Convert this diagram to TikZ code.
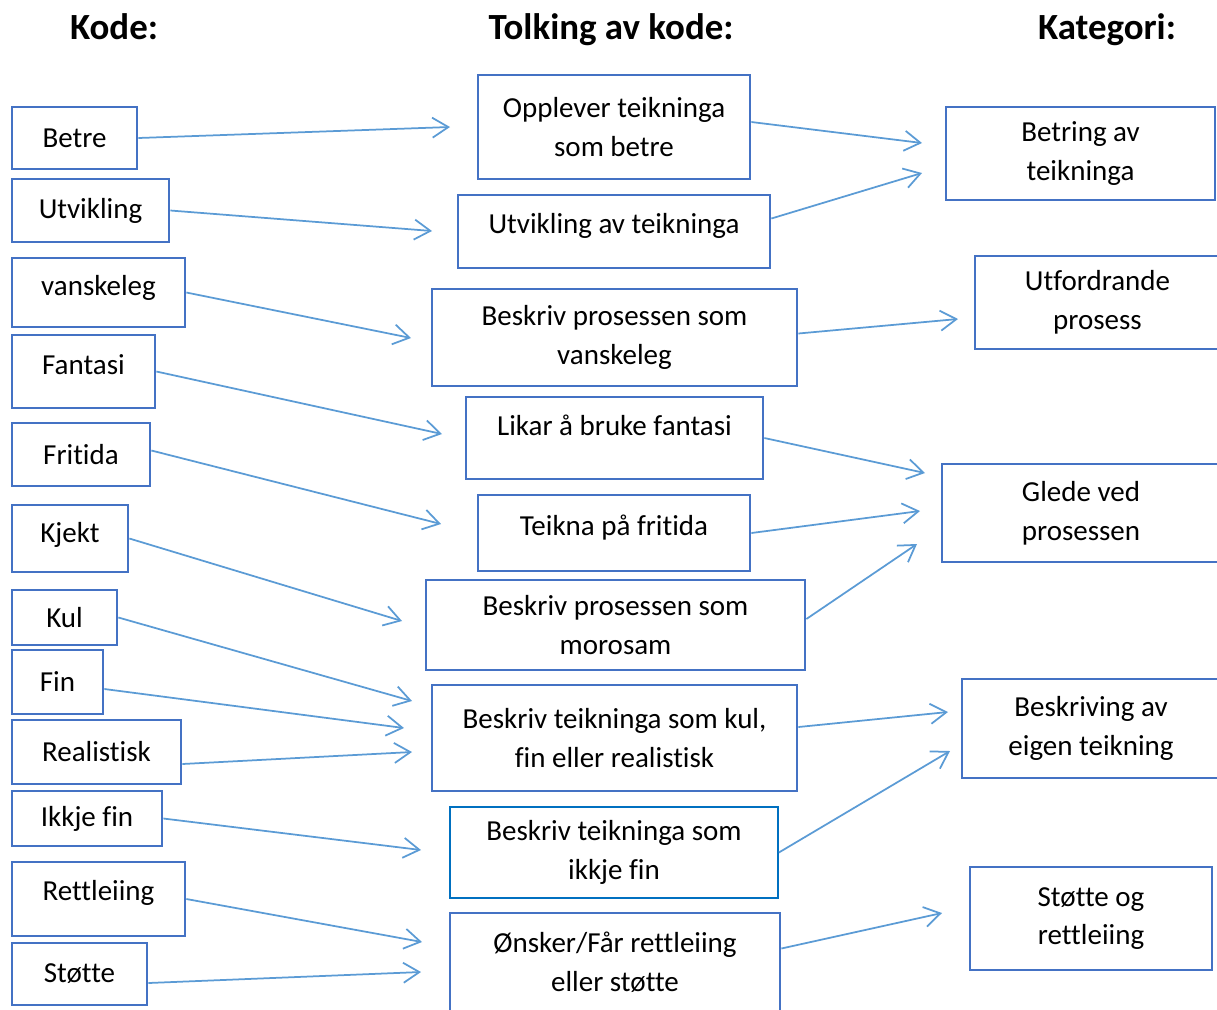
\documentclass[tikz,border=0pt]{standalone}
\usepackage{fontspec}
\setmainfont{Carlito}[Ligatures=NoCommon]
\usetikzlibrary{arrows.meta,calc}
\definecolor{boxblue}{HTML}{4472C4}
\definecolor{pilblue}{HTML}{5B9BD5}
\definecolor{lysblue}{HTML}{0070C0}
\tikzset{>={Straight Barb[length=0.32cm,width=0.4cm]}}
\tikzstyle{boks} = [draw=boxblue, line width=0.055cm, rectangle, inner sep=0pt, align=center, font=\fontsize{16.5}{22}\selectfont]
\tikzstyle{sz} = [minimum width=#1*0.02cm]
\tikzstyle{hy} = [minimum height=#1*0.02cm]
\tikzstyle{opp} = [text depth=#1]
\tikzstyle{pil} = [->, draw=pilblue, line width=0.035cm]
\tikzstyle{overskrift} = [font=\fontsize{21}{25}\selectfont\bfseries, inner sep=0pt, anchor=base]

\begin{document}
\begin{tikzpicture}[x=0.02cm,y=-0.02cm]
\useasboundingbox (0,0) rectangle (1217,1009);

% Headers
\node[overskrift](hkode) at (114,39){Kode:};
\node[overskrift](htolking) at (611,39){Tolking av kode:};
\node[overskrift](hkategori) at (1107,39){Kategori:};

% Kode column
\node[boks,sz=125,hy=62](betre) at (74.5,138){Betre};
\node[boks,sz=157,hy=63](utvikling) at (90.5,210.5){Utvikling};
\node[boks,sz=173,hy=69,opp=8pt](vanskeleg) at (98.5,292.5){vanskeleg};
\node[boks,sz=143,hy=73,opp=8pt](fantasi) at (83.5,371.5){Fantasi};
\node[boks,sz=138,hy=63](fritida) at (81,454.5){Fritida};
\node[boks,sz=116,hy=67,opp=7pt](kjekt) at (70,538.5){Kjekt};
\node[boks,sz=105,hy=55](kul) at (64.5,617.5){Kul};
\node[boks,sz=91,hy=64](fin) at (57.5,682){Fin};
\node[boks,sz=169,hy=64](realistisk) at (96.5,752){Realistisk};
\node[boks,sz=150,hy=55](ikkjefin) at (87,818.5){Ikkje fin};
\node[boks,sz=173,hy=74,opp=10pt](rettleiing) at (98.5,899){Rettleiing};
\node[boks,sz=135,hy=62](stotte) at (79.5,974){Støtte};

% Tolking column
\node[boks,sz=272,hy=104](opplever) at (614,127){Opplever teikninga\\som betre};
\node[boks,sz=312,hy=73,opp=9pt](utvav) at (614,231.5){Utvikling av teikninga};
\node[boks,sz=365,hy=97](vansk) at (614.5,337.5){Beskriv prosessen som\\vanskeleg};
\node[boks,sz=297,hy=82,opp=14pt](likar) at (614.5,438){Likar å bruke fantasi};
\node[boks,sz=272,hy=76,opp=9pt](teikna) at (614,533){Teikna på fritida};
\node[boks,sz=379,hy=90](morosam) at (615.5,625){Beskriv prosessen som\\morosam};
\node[boks,sz=365,hy=106](kulfin) at (614.5,738){Beskriv teikninga som kul,\\fin eller realistisk};
\node[boks,sz=328,hy=91,draw=lysblue,line width=0.035cm](ikkjefinm) at (614,852.5){Beskriv teikninga som\\ikkje fin};
\node[boks,sz=330,hy=99](onsker) at (615,962.5){Ønsker/Får rettleiing\\eller støtte};

% Kategori column
\node[boks,sz=269,hy=93](betring) at (1080.5,153.5){Betring av\\teikninga};
\node[boks,sz=245,hy=93](utford) at (1097.5,302.5){Utfordrande\\prosess};
\node[boks,sz=278,hy=98](glede) at (1081,513){Glede ved\\prosessen};
\node[boks,sz=258,hy=99](beskriving) at (1091,728.5){Beskriving av\\eigen teikning};
\node[boks,sz=242,hy=103](stotteog) at (1091,918.5){Støtte og\\rettleiing};

% Free arrow ends
\coordinate (t-betre) at (450,127);
\coordinate (t-utvikling) at (432,231);
\coordinate (t-vanskeleg) at (411,338);
\coordinate (t-fantasi) at (442,434);
\coordinate (t-fritida) at (441,524);
\coordinate (t-kjekt) at (402,621);
\coordinate (t-kul) at (412,701);
\coordinate (t-fin) at (404,728);
\coordinate (t-realistisk) at (412,752);
\coordinate (t-ikkjefin) at (421,850);
\coordinate (t-rettleiing) at (422,942);
\coordinate (t-stotte) at (421,972);
\coordinate (t-opplever) at (922,143);
\coordinate (t-utvav) at (922,173);
\coordinate (t-vansk) at (958,319);
\coordinate (t-likar) at (925,473);
\coordinate (t-teikna) at (920,511);
\coordinate (t-morosam) at (917,544);
\coordinate (t-kulfin) at (948,712);
\coordinate (t-ikkjefinm) at (950,751);
\coordinate (t-onsker) at (942,913);

% Draw connectors
\draw[pil](betre.east)--(t-betre);
\draw[pil](utvikling.east)--(t-utvikling);
\draw[pil](vanskeleg.east)--(t-vanskeleg);
\draw[pil](fantasi.east)--(t-fantasi);
\draw[pil]($(fritida.east)+(0,-4)$)--(t-fritida);
\draw[pil](kjekt.east)--(t-kjekt);
\draw[pil](kul.east)--(t-kul);
\draw[pil]($(fin.east)+(0,7)$)--(t-fin);
\draw[pil]($(realistisk.east)+(0,12)$)--(t-realistisk);
\draw[pil](ikkjefin.east)--(t-ikkjefin);
\draw[pil](rettleiing.east)--(t-rettleiing);
\draw[pil]($(stotte.east)+(0,9)$)--(t-stotte);

\draw[pil]($(opplever.east)+(0,-5)$)--(t-opplever);
\draw[pil]($(utvav.east)+(0,-13)$)--(t-utvav);
\draw[pil]($(vansk.east)+(0,-4)$)--(t-vansk);
\draw[pil](likar.east)--(t-likar);
\draw[pil](teikna.east)--(t-teikna);
\draw[pil]($(morosam.east)+(0,-6)$)--(t-morosam);
\draw[pil]($(kulfin.east)+(0,-11)$)--(t-kulfin);
\draw[pil](ikkjefinm.east)--(t-ikkjefinm);
\draw[pil]($(onsker.east)+(0,-14)$)--(t-onsker);

\end{tikzpicture}
\end{document}
